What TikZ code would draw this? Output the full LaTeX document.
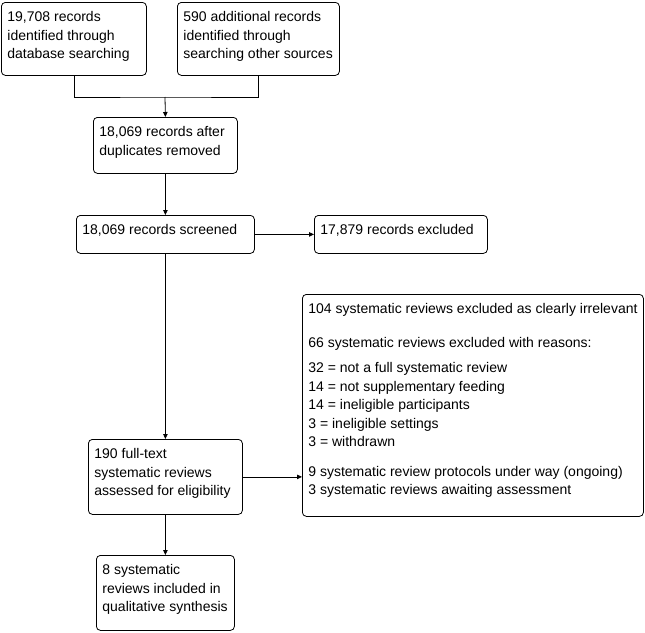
\documentclass[tikz,border=0pt]{standalone}
\usepackage{fontspec}
\setmainfont{Liberation Sans}
\usepackage{tikz}
\usetikzlibrary{arrows.meta}

\newcommand{\boxtxt}[3]{\parbox[c][#2pt][t]{#1pt}{\vspace*{9pt}\raggedright\leftskip=6pt #3\par}}

\begin{document}
\begin{tikzpicture}[x=1pt, y=-1pt, line width=0.8pt,
        font=\fontsize{14pt}{18.5pt}\selectfont,
        box/.style={draw, rounded corners=4pt, inner sep=0pt, anchor=north west},
        arr/.style={-{Triangle[length=5pt, width=4.5pt]}}]
                \useasboundingbox (0,0) rectangle (645,632);
                \node[box] (db) at (1,2) {\boxtxt{145}{73}{19,708 records\\identified through\\database searching}};
                \node[box] (other) at (177,2) {\boxtxt{162}{73}{590 additional records\\identified through\\searching other sources}};
                \node[box] (dup) at (93,117) {\boxtxt{144}{56}{18,069 records after\\duplicates removed}};
                \node[box] (screen) at (76,215) {\boxtxt{178}{38}{18,069 records screened}};
                \node[box] (excl) at (314,215) {\boxtxt{173}{38}{17,879 records excluded}};
                \node[box] (reasons) at (302,294) {\boxtxt{341}{222}{104 systematic reviews excluded as clearly irrelevant\\[15pt]
                    66 systematic reviews excluded with reasons:\\[7pt]
                    32 = not a full systematic review\\
                    14 = not supplementary feeding\\
                    14 = ineligible participants\\
                    3 = ineligible settings\\
                    3 = withdrawn\\[11pt]
                    9 systematic review protocols under way (ongoing)\\
                    3 systematic reviews awaiting assessment}};
                \node[box] (full) at (88,439) {\boxtxt{154}{75}{190 full-text\\systematic reviews\\assessed for eligibility}};
                \node[box] (incl) at (96,555) {\boxtxt{138}{75}{8 systematic\\reviews included in\\qualitative synthesis}};
                \coordinate (join) at (165,97);
                \draw (db.south) |- (join) -| (other.south);
                \draw[arr] (join) -- (dup.north);
                \draw[arr] (dup) -- (screen);
                \draw[arr] (screen) -- (excl);
                \draw[arr] (screen) -- (full);
                \draw[arr] (full.east) -- (full.east -| reasons.west);
                \draw[arr] (full) -- (incl);
            \end{tikzpicture}
\end{document}
